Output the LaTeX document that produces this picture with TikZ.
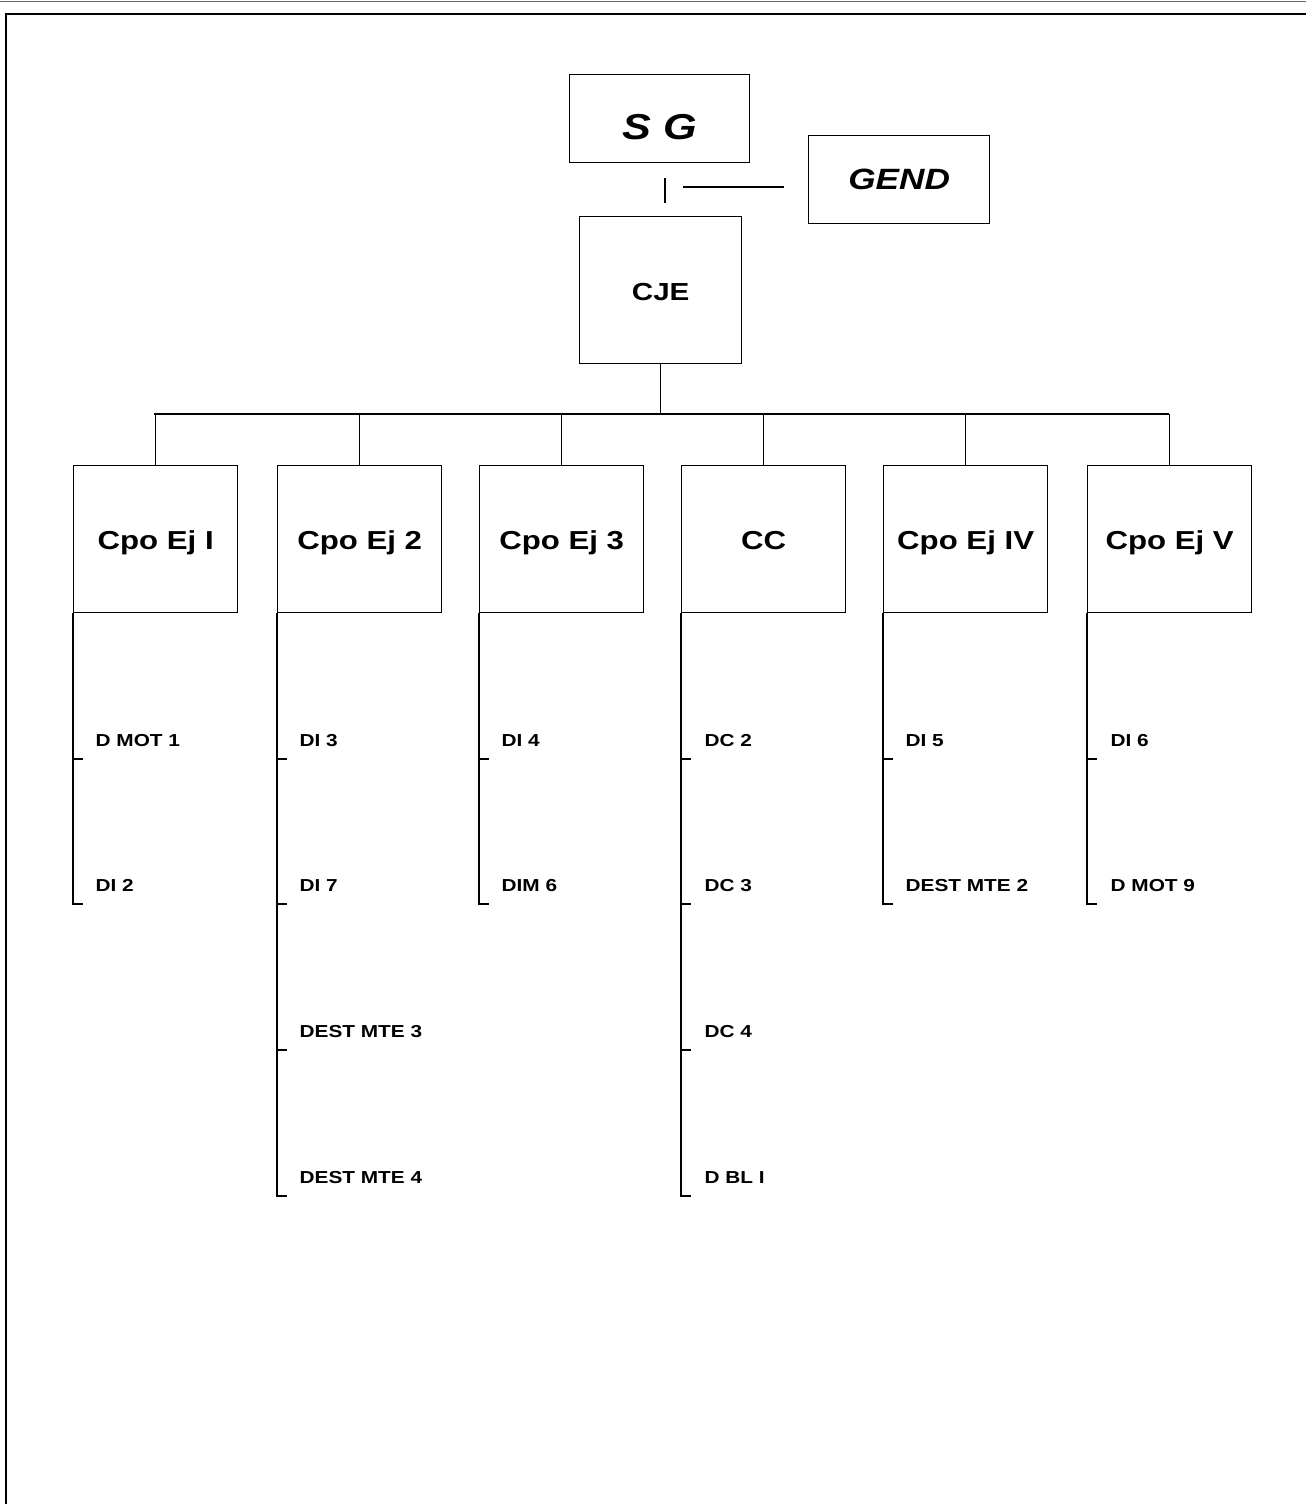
\documentclass[tikz,border=0pt]{standalone}
\usepackage{fontspec}
\setmainfont{Liberation Sans}
\newfontfamily\wide[FakeStretch=1.2]{Liberation Sans}
\begin{document}
\begin{tikzpicture}[x=0.75pt,y=-0.75pt,
  line width=1pt,
  box/.style={draw, line width=1pt, rectangle, inner sep=0pt, anchor=north west,
    font=\wide\bfseries\fontsize{19.5}{21}\selectfont,
    text height=16pt, text depth=0pt,
    minimum width=123pt, minimum height=110.25pt},
  item/.style={anchor=base west, inner sep=0pt,
    font=\wide\bfseries\fontsize{13}{15}\selectfont},
  link/.style={line width=1pt},
  frame/.style={line width=1.4pt}]
\useasboundingbox (0,0) rectangle (1306,1504);

% page frame
\coordinate (ftl) at (6,14);
\coordinate (ftr) at (1306,14);
\coordinate (fbl) at (6,1504);
\coordinate (top0) at (0,1);
\coordinate (top1) at (1306,1);
\draw[line width=0.6pt, black!60] (top0) -- (top1);
\draw[frame] (ftr) -- (ftl) -- (fbl);

% top level
\node[box, minimum width=135pt, minimum height=66pt, text height=, text depth=,
  font=\wide\bfseries\itshape\fontsize{27}{30}\selectfont] (sg) at (569,74)
  {\raisebox{-15.5pt}[0pt][0pt]{S G}};
\node[box, minimum width=135.75pt, minimum height=66pt, text height=, text depth=,
  font=\wide\bfseries\itshape\fontsize{22}{24}\selectfont] (gend) at (808,135) {GEND};
\node[box, minimum width=121.5pt, font=\wide\bfseries\fontsize{18.5}{20}\selectfont] (cje) at (579,216) {CJE};

\coordinate (v1) at (665,178);
\coordinate (v2) at (665,203);
\coordinate (h1) at (683,187);
\coordinate (h2) at (784,187);
\draw[link] (v1) -- (v2);
\draw[link] (h1) -- (h2);

% second level
\node[box] (b1) at (73,465) {Cpo Ej I};
\node[box] (b2) at (277,465) {Cpo Ej 2};
\node[box] (b3) at (479,465) {Cpo Ej 3};
\node[box] (b4) at (681,465) {CC};
\node[box] (b5) at (883,465) {Cpo Ej IV};
\node[box] (b6) at (1087,465) {Cpo Ej V};

\coordinate (busL) at (154,414);
\coordinate (busR) at (1169,414);
\draw[link] (busL) -- (busR);
\draw[link] (cje.south) -- (cje.south |- busL);
\foreach \b in {b1,b2,b3,b4,b5,b6}
  \draw[link] (\b.north) -- (\b.north |- busL);

% column 1
\node[item] (i11) at (95,746) {D MOT 1};
\node[item] (i12) at (95,891) {DI 2};
\coordinate (t11) at (83,759);
\coordinate (t12) at (83,904);
\draw[link] (b1.south west) |- (t12);
\draw[link] (b1.south west |- t11) -- (t11);

% column 2
\node[item] (i21) at (299,746) {DI 3};
\node[item] (i22) at (299,891) {DI 7};
\node[item] (i23) at (299,1037) {DEST MTE 3};
\node[item] (i24) at (299,1183) {DEST MTE 4};
\coordinate (t21) at (287,759);
\coordinate (t22) at (287,904);
\coordinate (t23) at (287,1050);
\coordinate (t24) at (287,1196);
\draw[link] (b2.south west) |- (t24);
\foreach \t in {t21,t22,t23}
  \draw[link] (b2.south west |- \t) -- (\t);

% column 3
\node[item] (i31) at (501,746) {DI 4};
\node[item] (i32) at (501,891) {DIM 6};
\coordinate (t31) at (489,759);
\coordinate (t32) at (489,904);
\draw[link] (b3.south west) |- (t32);
\draw[link] (b3.south west |- t31) -- (t31);

% column 4
\node[item] (i41) at (704,746) {DC 2};
\node[item] (i42) at (704,891) {DC 3};
\node[item] (i43) at (704,1037) {DC 4};
\node[item] (i44) at (704,1183) {D BL I};
\coordinate (t41) at (691,759);
\coordinate (t42) at (691,904);
\coordinate (t43) at (691,1050);
\coordinate (t44) at (691,1196);
\draw[link] (b4.south west) |- (t44);
\foreach \t in {t41,t42,t43}
  \draw[link] (b4.south west |- \t) -- (\t);

% column 5
\node[item] (i51) at (905,746) {DI 5};
\node[item] (i52) at (905,891) {DEST MTE 2};
\coordinate (t51) at (893,759);
\coordinate (t52) at (893,904);
\draw[link] (b5.south west) |- (t52);
\draw[link] (b5.south west |- t51) -- (t51);

% column 6
\node[item] (i61) at (1110,746) {DI 6};
\node[item] (i62) at (1110,891) {D MOT 9};
\coordinate (t61) at (1097,759);
\coordinate (t62) at (1097,904);
\draw[link] (b6.south west) |- (t62);
\draw[link] (b6.south west |- t61) -- (t61);
\end{tikzpicture}
\end{document}
